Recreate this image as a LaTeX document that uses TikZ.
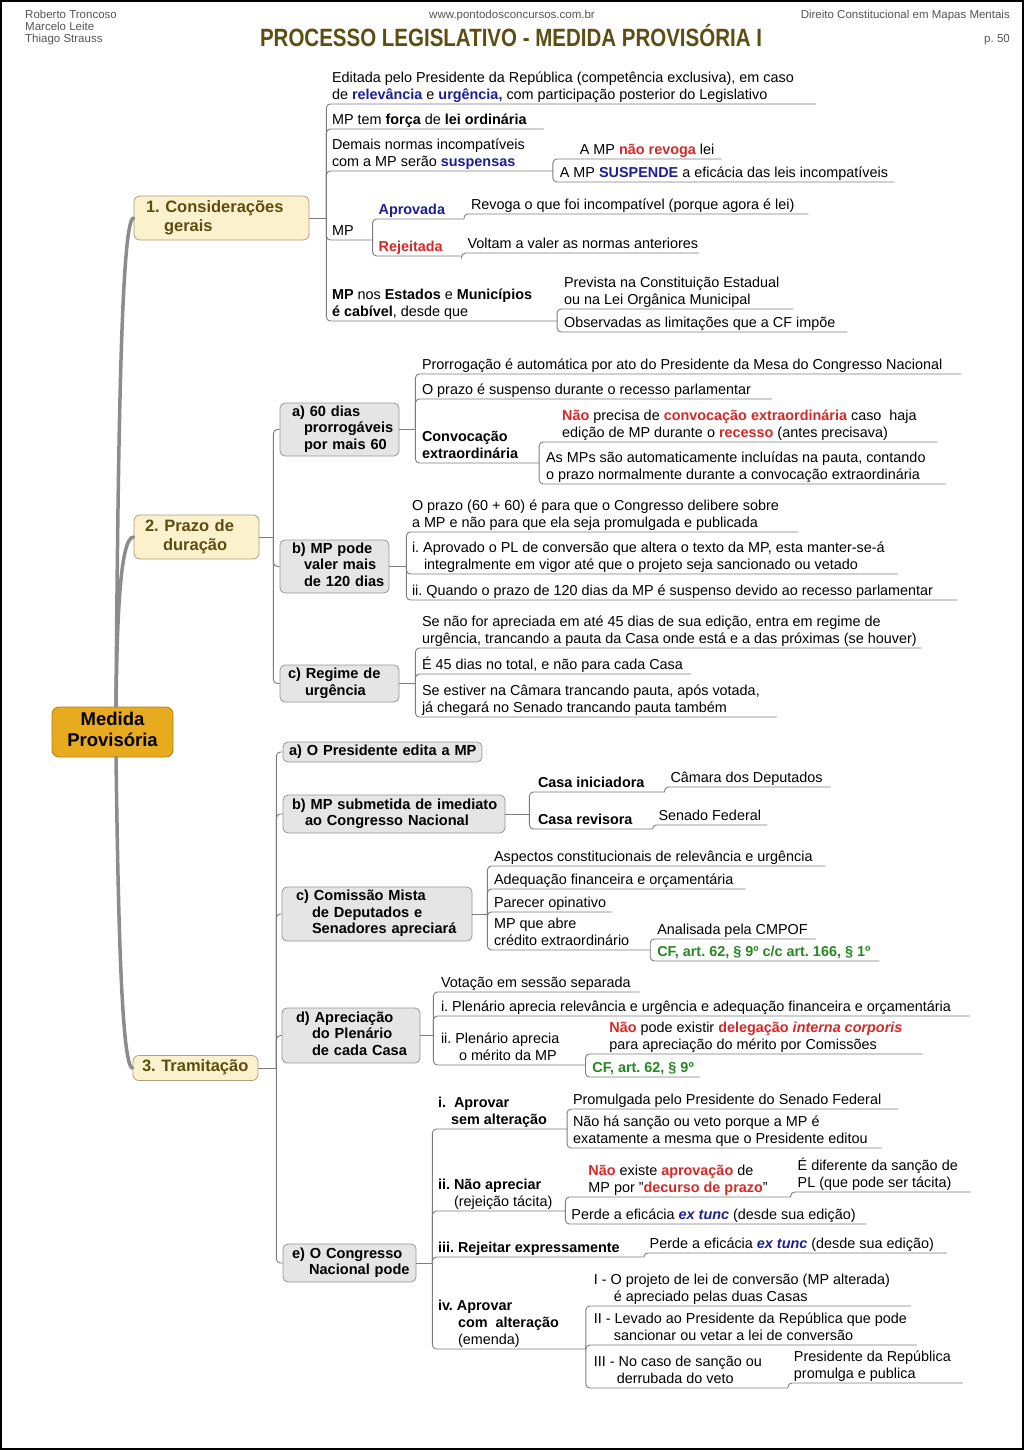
\documentclass[tikz,border=0pt]{standalone}
\usepackage{graphicx}
\usepackage{fontspec}
\setmainfont{Liberation Sans}
\usetikzlibrary{calc}
\frenchspacing
\definecolor{cblue}{RGB}{30,30,150}
\definecolor{cred}{RGB}{215,40,40}
\definecolor{cgreen}{RGB}{40,135,35}
\definecolor{olivetxt}{RGB}{92,78,18}
\definecolor{hdrgrey}{RGB}{85,85,85}
\definecolor{linegrey}{RGB}{125,125,125}
\definecolor{trunkgrey}{RGB}{140,140,140}
\definecolor{boxfill}{RGB}{229,229,229}
\definecolor{boxdraw}{RGB}{150,150,150}
\definecolor{mainfill}{RGB}{251,241,204}
\definecolor{maindraw}{RGB}{170,160,125}
\definecolor{rootfill}{RGB}{232,170,30}
\definecolor{rootdraw}{RGB}{180,125,20}
\newcommand{\lf}{\fontsize{14.4pt}{17pt}\selectfont}
\newcommand{\bxf}{\fontsize{14.6pt}{16.5pt}\selectfont\bfseries}
\newcommand{\mnf}{\fontsize{16.5pt}{19pt}\selectfont\bfseries}
\newcommand{\rtf}{\fontsize{18.5pt}{21pt}\selectfont\bfseries}
\newcommand{\hdf}{\fontsize{11.5pt}{13pt}\selectfont}
\newcommand{\ml}[1]{\begin{tabular}[b]{@{}l@{}}#1\end{tabular}}
\newcommand{\blu}[1]{{\color{cblue}\bfseries #1}}
\newcommand{\rdt}[1]{{\color{cred}\bfseries #1}}
\newcommand{\grn}[1]{{\color{cgreen}\bfseries #1}}
\newcommand{\leafline}[3]{\coordinate (#2-e) at ([shift={(#3,4.5)}]#2.base east);\draw[conn] (#1) |- (#2-e);}
\tikzset{
 conn/.style={draw=linegrey, line width=0.9pt, rounded corners=4pt},
 trunk/.style={draw=trunkgrey, line width=3.5pt, line cap=round},
 leaf/.style={anchor=base west, inner sep=0pt, outer sep=0pt, font=\lf, yshift=4.5pt},
 gbox/.style={draw=boxdraw, fill=boxfill, rounded corners=5pt, inner ysep=0pt, font=\bxf, align=left, line width=0.8pt},
 mbox/.style={draw=maindraw, fill=mainfill, rounded corners=6pt, inner ysep=0pt, font=\mnf, text=olivetxt, align=left, line width=0.8pt},
 rbox/.style={draw=rootdraw, fill=rootfill, rounded corners=7pt, inner sep=0pt, font=\rtf, line width=0.8pt},
 hdr/.style={inner sep=0pt, font=\hdf, text=hdrgrey},
}
\begin{document}
\begin{tikzpicture}[x=1pt,y=-1pt]
\useasboundingbox (0,0) rectangle (1024,1450);
\fill[white] (0,0) rectangle (1024,1450);
\draw[black, line width=2pt] (1,1) rectangle (1023,1449);
% header
\node[hdr, anchor=base west] (au1) at (25,19) {Roberto Troncoso};
\node[hdr, anchor=base west] (au2) at (25,31) {Marcelo Leite};
\node[hdr, anchor=base west] (au3) at (25,43) {Thiago Strauss};
\node[hdr, anchor=base] (web) at (512,19) {www.pontodosconcursos.com.br};
\node[hdr, anchor=base east] (book) at (1010,19) {Direito Constitucional em Mapas Mentais};
\node[hdr, anchor=base east] (pg) at (1010,43) {p. 50};
\node[anchor=base, inner sep=0pt, text=olivetxt, font=\fontsize{25pt}{28pt}\selectfont\bfseries] (title) at (511,47) {\scalebox{0.82}[1]{PROCESSO LEGISLATIVO - MEDIDA PROVISÓRIA I}};
% root and main nodes
\node[rbox, minimum width=121pt, minimum height=50pt] (root) at (112.5,732) {\begin{tabular}{@{}c@{}}Medida\\Provisória\end{tabular}};
\node[mbox, inner xsep=12pt, text width=151pt, minimum height=44pt] (c1) at (221.5,218) {\ml{1. Considerações\\\hspace*{18pt}gerais}};
\node[mbox, inner xsep=11pt, text width=103pt, minimum height=44pt] (c2) at (196.5,537) {\ml{2. Prazo de\\\hspace*{18pt}duração}};
\node[mbox, inner xsep=9pt, text width=107pt, minimum height=25pt] (c3) at (195.5,1068) {\ml{3. Tramitação}};
\draw[trunk] ([xshift=3.5pt]root.north) .. controls (118,450) and (121,218) .. (c1.west);
\draw[trunk] ([xshift=3.5pt]root.north) .. controls (117,620) and (120,537) .. (c2.west);
\draw[trunk] ([xshift=3.5pt]root.south) .. controls (118,900) and (121,1068) .. (c3.west);
% ---------- section 1
\coordinate (J1) at ([xshift=17pt]c1.east);
\draw[conn] (c1.east) -- (J1);
\node[leaf] (n11) at (332,104) {\ml{Editada pelo Presidente da República (competência exclusiva), em caso\\de \blu{relevância} e \blu{urgência,} com participação posterior do Legislativo}};
\leafline{J1}{n11}{22}
\node[leaf] (n12) at (332,129) {MP tem \textbf{força} de \textbf{lei ordinária}};
\leafline{J1}{n12}{17}
\node[leaf] (n13) at (332,171) {\ml{Demais normas incompatíveis\\com a MP serão \blu{suspensas}}};
\leafline{J1}{n13}{28}
\node[leaf, xshift=27pt] (n131) at (n13-e |- 0,159) {A MP \rdt{não revoga} lei};
\leafline{n13-e}{n131}{7}
\node[leaf, xshift=7pt] (n132) at (n13-e |- 0,182) {A MP \blu{SUSPENDE} a eficácia das leis incompatíveis};
\leafline{n13-e}{n132}{6}
\node[leaf] (n14) at (332,240) {MP};
\leafline{J1}{n14}{19}
\node[leaf, xshift=6pt] (n141) at (n14-e |- 0,219) {\blu{Aprovada}};
\leafline{n14-e}{n141}{19}
\node[leaf, xshift=7pt] (n1411) at (n141-e |- 0,214) {Revoga o que foi incompatível (porque agora é lei)};
\leafline{n141-e}{n1411}{14}
\node[leaf, xshift=6pt] (n142) at (n14-e |- 0,256) {\rdt{Rejeitada}};
\leafline{n14-e}{n142}{19}
\node[leaf, xshift=6pt] (n1421) at (n142-e |- 0,253) {Voltam a valer as normas anteriores};
\leafline{n142-e}{n1421}{1}
\node[leaf] (n15) at (332,321) {\ml{\textbf{MP} nos \textbf{Estados} e \textbf{Municípios}\\\textbf{é cabível}, desde que}};
\leafline{J1}{n15}{25}
\node[leaf, xshift=7pt] (n151) at (n15-e |- 0,309) {\ml{Prevista na Constituição Estadual\\ou na Lei Orgânica Municipal}};
\leafline{n15-e}{n151}{14}
\node[leaf, xshift=7pt] (n152) at (n15-e |- 0,332) {Observadas as limitações que a CF impõe};
\leafline{n15-e}{n152}{12}
% ---------- section 2
\coordinate (J2) at ([xshift=14pt]c2.east);
\draw[conn] (c2.east) -- (J2);
\node[gbox, inner xsep=12pt, text width=95pt, minimum height=53pt] (s2a) at (339.5,429.5) {\ml{a) 60 dias\\\hspace*{12pt}prorrogáveis\\\hspace*{12pt}por mais 60}};
\node[gbox, inner xsep=12pt, text width=85pt, minimum height=53pt] (s2b) at (334.5,566.5) {\ml{b) MP pode\\\hspace*{12pt}valer mais\\\hspace*{12pt}de 120 dias}};
\node[gbox, inner xsep=8pt, text width=103pt, minimum height=37pt] (s2c) at (339.5,683.5) {\ml{c) Regime de\\\hspace*{17pt}urgência}};
\draw[conn] (J2) |- (s2a.west);
\draw[conn] (J2) |- (s2b.west);
\draw[conn] (J2) |- (s2c.west);
\coordinate (Ja) at ([xshift=16pt]s2a.east);
\draw[conn] (s2a.east) -- (Ja);
\node[leaf] (n2a1) at (422,374) {Prorrogação é automática por ato do Presidente da Mesa do Congresso Nacional};
\leafline{Ja}{n2a1}{19}
\node[leaf] (n2a2) at (422,399) {O prazo é suspenso durante o recesso parlamentar};
\leafline{Ja}{n2a2}{21}
\node[leaf] (n2a3) at (422,463) {\ml{\textbf{Convocação}\\\textbf{extraordinária}}};
\leafline{Ja}{n2a3}{21}
\node[leaf, xshift=23pt] (n2a31) at (n2a3-e |- 0,442) {\ml{\rdt{Não} precisa de \rdt{convocação extraordinária} caso\ \ haja\\edição de MP durante o \rdt{recesso} (antes precisava)}};
\leafline{n2a3-e}{n2a31}{21}
\node[leaf, xshift=7pt] (n2a32) at (n2a3-e |- 0,484) {\ml{As MPs são automaticamente incluídas na pauta, contando\\o prazo normalmente durante a convocação extraordinária}};
\leafline{n2a3-e}{n2a32}{20}
\coordinate (Jb) at ([xshift=17pt]s2b.east);
\draw[conn] (s2b.east) -- (Jb);
\node[leaf] (n2b1) at (412,532) {\ml{O prazo (60 + 60) é para que o Congresso delibere sobre\\a MP e não para que ela seja promulgada e publicada}};
\leafline{Jb}{n2b1}{19}
\node[leaf] (n2b2) at (412,574) {\ml{i. Aprovado o PL de conversão que altera o texto da MP, esta manter-se-á\\\hspace*{12pt}integralmente em vigor até que o projeto seja sancionado ou vetado}};
\leafline{Jb}{n2b2}{13}
\node[leaf] (n2b3) at (412,600) {ii. Quando o prazo de 120 dias da MP é suspenso devido ao recesso parlamentar};
\leafline{Jb}{n2b3}{25}
\coordinate (Jc) at ([xshift=16pt]s2c.east);
\draw[conn] (s2c.east) -- (Jc);
\node[leaf] (n2c1) at (422,648) {\ml{Se não for apreciada em até 45 dias de sua edição, entra em regime de\\urgência, trancando a pauta da Casa onde está e a das próximas (se houver)}};
\leafline{Jc}{n2c1}{5}
\node[leaf] (n2c2) at (422,674) {É 45 dias no total, e não para cada Casa};
\leafline{Jc}{n2c2}{8}
\node[leaf] (n2c3) at (422,717) {\ml{Se estiver na Câmara trancando pauta, após votada,\\já chegará no Senado trancando pauta também}};
\leafline{Jc}{n2c3}{17}
% ---------- section 3
\coordinate (J3) at ([xshift=18pt]c3.east);
\draw[conn] (c3.east) -- (J3);
\node[gbox, inner xsep=6pt, text width=187pt, minimum height=20pt] (s3a) at (382.5,752) {\ml{a) O Presidente edita a MP}};
\node[gbox, inner xsep=9pt, text width=204pt, minimum height=38pt] (s3b) at (394,814) {\ml{b) MP submetida de imediato\\\hspace*{13pt}ao Congresso Nacional}};
\node[gbox, inner xsep=14pt, text width=162pt, minimum height=54pt] (s3c) at (377,914) {\ml{c) Comissão Mista\\\hspace*{16pt}de Deputados e\\\hspace*{16pt}Senadores apreciará}};
\node[gbox, inner xsep=14pt, text width=110pt, minimum height=55pt] (s3d) at (351,1035.5) {\ml{d) Apreciação\\\hspace*{16pt}do Plenário\\\hspace*{16pt}de cada Casa}};
\node[gbox, inner xsep=9pt, text width=115pt, minimum height=38pt] (s3e) at (349.5,1263) {\ml{e) O Congresso\\\hspace*{17pt}Nacional pode}};
\draw[conn] (J3) |- (s3a.west);
\draw[conn] (J3) |- (s3b.west);
\draw[conn] (J3) |- (s3c.west);
\draw[conn] (J3) |- (s3d.west);
\draw[conn] (J3) |- (s3e.west);
% b
\coordinate (Jsb) at ([xshift=24pt]s3b.east);
\draw[conn] (s3b.east) -- (Jsb);
\node[leaf] (n3b1) at (538,792) {\textbf{Casa iniciadora}};
\leafline{Jsb}{n3b1}{20}
\node[leaf, xshift=6pt] (n3b11) at (n3b1-e |- 0,787) {Câmara dos Deputados};
\leafline{n3b1-e}{n3b11}{8}
\node[leaf] (n3b2) at (538,829) {\textbf{Casa revisora}};
\leafline{Jsb}{n3b2}{20}
\node[leaf, xshift=6pt] (n3b21) at (n3b2-e |- 0,825) {Senado Federal};
\leafline{n3b2-e}{n3b21}{6}
% c
\coordinate (Jsc) at ([xshift=15pt]s3c.east);
\draw[conn] (s3c.east) -- (Jsc);
\node[leaf] (n3c1) at (494,866) {Aspectos constitucionais de relevância e urgência};
\leafline{Jsc}{n3c1}{13}
\node[leaf] (n3c2) at (494,889) {Adequação financeira e orçamentária};
\leafline{Jsc}{n3c2}{12}
\node[leaf] (n3c3) at (494,912) {Parecer opinativo};
\leafline{Jsc}{n3c3}{6}
\node[leaf] (n3c4) at (494,950) {\ml{MP que abre\\crédito extraordinário}};
\leafline{Jsc}{n3c4}{21}
\node[leaf, xshift=7pt] (n3c41) at (n3c4-e |- 0,939) {Analisada pela CMPOF};
\leafline{n3c4-e}{n3c41}{8}
\node[leaf, xshift=7pt] (n3c42) at (n3c4-e |- 0,961) {\grn{CF, art. 62, § 9º c/c art. 166, § 1º}};
\leafline{n3c4-e}{n3c42}{9}
% d
\coordinate (Jsd) at ([xshift=13pt]s3d.east);
\draw[conn] (s3d.east) -- (Jsd);
\node[leaf] (n3d1) at (441,992) {Votação em sessão separada};
\leafline{Jsd}{n3d1}{9}
\node[leaf] (n3d2) at (441,1016) {i. Plenário aprecia relevância e urgência e adequação financeira e orçamentária};
\leafline{Jsd}{n3d2}{19}
\node[leaf] (n3d3) at (441,1065) {\ml{ii. Plenário aprecia\\\hspace*{18pt}o mérito da MP}};
\leafline{Jsd}{n3d3}{26}
\node[leaf, xshift=24pt] (n3d31) at (n3d3-e |- 0,1054) {\ml{\rdt{Não} pode existir \rdt{delegação \itshape interna corporis}\\para apreciação do mérito por Comissões}};
\leafline{n3d3-e}{n3d31}{20}
\node[leaf, xshift=7pt] (n3d32) at (n3d3-e |- 0,1077) {\grn{CF, art. 62, § 9º}};
\leafline{n3d3-e}{n3d32}{6}
% e
\coordinate (Jse) at ([xshift=16pt]s3e.east);
\draw[conn] (s3e.east) -- (Jse);
\node[leaf] (n3e1) at (438,1129) {\ml{\textbf{i.\ \ Aprovar}\\\hspace*{13pt}\textbf{sem alteração}}};
\leafline{Jse}{n3e1}{20}
\node[leaf, xshift=6pt] (n3e11) at (n3e1-e |- 0,1109) {Promulgada pelo Presidente do Senado Federal};
\leafline{n3e1-e}{n3e11}{17}
\node[leaf, xshift=6pt] (n3e12) at (n3e1-e |- 0,1148) {\ml{Não há sanção ou veto porque a MP é\\exatamente a mesma que o Presidente editou}};
\leafline{n3e1-e}{n3e12}{14}
\node[leaf] (n3e2) at (438,1211) {\ml{\textbf{ii. Não apreciar}\\\hspace*{16pt}(rejeição tácita)}};
\leafline{Jse}{n3e2}{13}
\node[leaf, xshift=23pt] (n3e21) at (n3e2-e |- 0,1197) {\ml{\rdt{Não} existe \rdt{aprovação} de\\MP por "\rdt{decurso de prazo}"}};
\leafline{n3e2-e}{n3e21}{23}
\node[leaf, xshift=7pt] (n3e211) at (n3e21-e |- 0,1192) {\ml{É diferente da sanção de\\PL (que pode ser tácita)}};
\leafline{n3e21-e}{n3e211}{13}
\node[leaf, xshift=6pt] (n3e22) at (n3e2-e |- 0,1224) {Perde a eficácia \blu{\itshape ex tunc} (desde sua edição)};
\leafline{n3e2-e}{n3e22}{11}
\node[leaf] (n3e3) at (438,1257) {\textbf{iii. Rejeitar expressamente}};
\leafline{Jse}{n3e3}{24}
\node[leaf, xshift=6pt] (n3e31) at (n3e3-e |- 0,1253) {Perde a eficácia \blu{\itshape ex tunc} (desde sua edição)};
\leafline{n3e3-e}{n3e31}{13}
\node[leaf] (n3e4) at (438,1349) {\ml{\textbf{iv. Aprovar}\\\hspace*{20pt}\textbf{com\ \ alteração}\\\hspace*{20pt}(emenda)}};
\leafline{Jse}{n3e4}{27}
\node[leaf, xshift=8pt] (n3e41) at (n3e4-e |- 0,1306) {\ml{I - O projeto de lei de conversão (MP alterada)\\\hspace*{20pt}é apreciado pelas duas Casas}};
\leafline{n3e4-e}{n3e41}{21}
\node[leaf, xshift=8pt] (n3e42) at (n3e4-e |- 0,1345) {\ml{II - Levado ao Presidente da República que pode\\\hspace*{20pt}sancionar ou vetar a lei de conversão}};
\leafline{n3e4-e}{n3e42}{10}
\node[leaf, xshift=8pt] (n3e43) at (n3e4-e |- 0,1388) {\ml{III - No caso de sanção ou\\\hspace*{23pt}derrubada do veto}};
\leafline{n3e4-e}{n3e43}{26}
\node[leaf, xshift=6pt] (n3e431) at (n3e43-e |- 0,1383) {\ml{Presidente da República\\promulga e publica}};
\leafline{n3e43-e}{n3e431}{12}
\end{tikzpicture}
\end{document}
